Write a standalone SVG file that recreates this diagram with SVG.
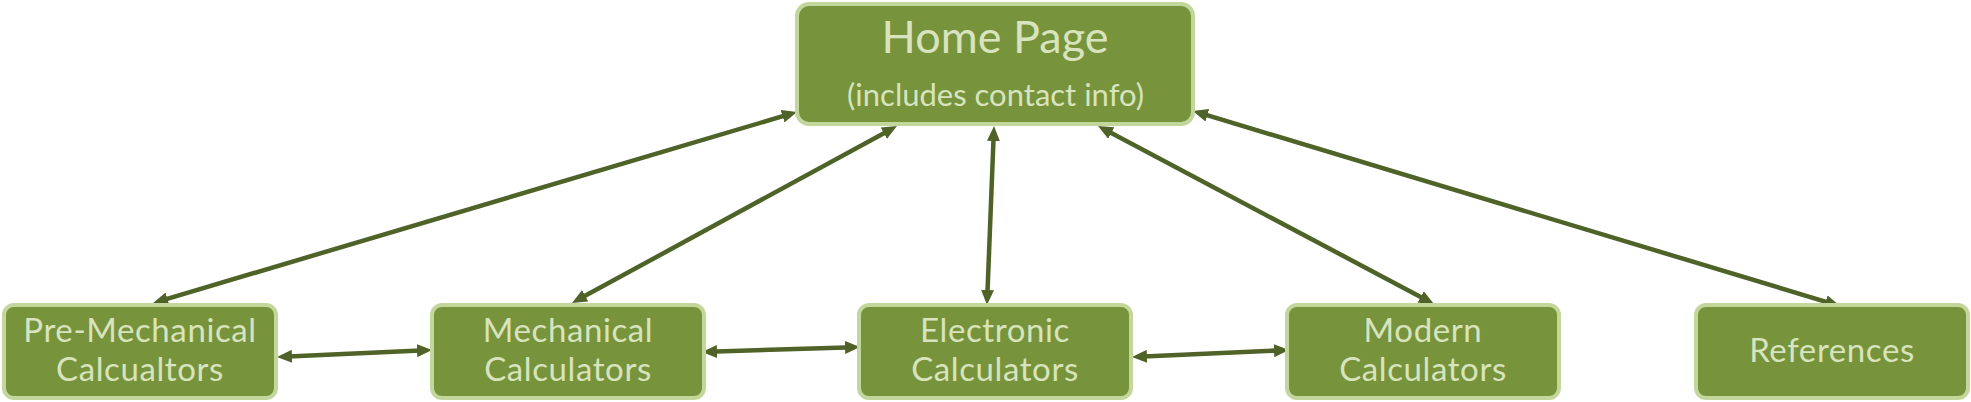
<svg xmlns="http://www.w3.org/2000/svg" width="1971" height="402" viewBox="0 0 1971 402">
<style>
.box{fill:#77933C;stroke:#C3D69B;stroke-width:4}
.t{font-family:Lato,"Open Sans",sans-serif;fill:#D7E4BD;text-anchor:middle}
.s{font-size:33px;letter-spacing:0.6px}
.c{stroke:#4F6228;stroke-width:4.5;fill:none;marker-start:url(#ah);marker-end:url(#ah)}
</style>
<defs>
<marker id="ah" markerUnits="userSpaceOnUse" markerWidth="15" markerHeight="13" viewBox="0 0 15 13" refX="9" refY="6.5" orient="auto-start-reverse">
<path d="M0,0 L15,6.5 L0,13 z" fill="#4F6228"/>
</marker>
</defs>
<rect width="1971" height="402" fill="#FFFFFF"/>
<g id="connectors">
<line class="c" x1="158.8" y1="301.3" x2="791.2" y2="113.7"/>
<line class="c" x1="577.3" y1="300.1" x2="891.7" y2="128.9"/>
<line class="c" x1="987.2" y1="299" x2="993.8" y2="132"/>
<line class="c" x1="1428.7" y1="301.2" x2="1103.3" y2="128.8"/>
<line class="c" x1="1834.3" y1="304.3" x2="1198.7" y2="112.7"/>
<line class="c" x1="283" y1="356.7" x2="426" y2="350.3"/>
<line class="c" x1="708" y1="351.8" x2="854" y2="347.2"/>
<line class="c" x1="1138" y1="356.7" x2="1283" y2="350.3"/>
</g>
<g id="home">
<rect class="box" x="797" y="4" width="396" height="120" rx="12"/>
<text class="t" x="995" y="53" font-size="45">Home Page</text>
<text class="t" x="995.5" y="106" font-size="31">(includes contact info)</text>
</g>
<g id="premech">
<rect class="box" x="4" y="305" width="272" height="93" rx="10"/>
<text class="t s" x="140" y="342">Pre-Mechanical</text>
<text class="t s" x="140" y="381">Calcualtors</text>
</g>
<g id="mech">
<rect class="box" x="432" y="305" width="272" height="93" rx="10"/>
<text class="t s" x="568" y="342">Mechanical</text>
<text class="t s" x="568" y="381">Calculators</text>
</g>
<g id="elec">
<rect class="box" x="859" y="305" width="272" height="93" rx="10"/>
<text class="t s" x="995" y="342">Electronic</text>
<text class="t s" x="995" y="381">Calculators</text>
</g>
<g id="modern">
<rect class="box" x="1287" y="305" width="272" height="93" rx="10"/>
<text class="t s" x="1423" y="342">Modern</text>
<text class="t s" x="1423" y="381">Calculators</text>
</g>
<g id="references">
<rect class="box" x="1696" y="305" width="272" height="93" rx="10"/>
<text class="t s" x="1832" y="362">References</text>
</g>
</svg>
